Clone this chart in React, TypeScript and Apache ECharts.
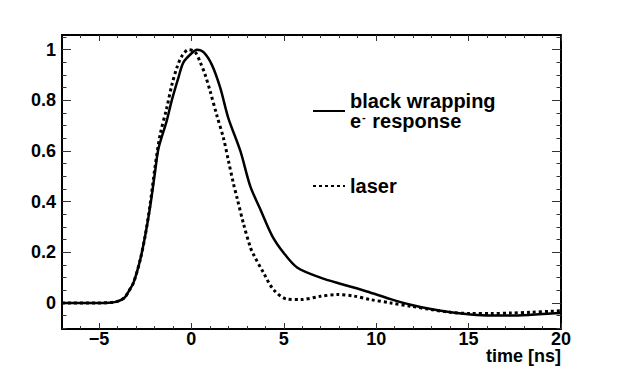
import React, { useEffect, useRef } from "react";
import * as echarts from "echarts";

// time [ns] and normalised amplitude
const wrapTime = [-7, -5, -4.3, -4, -3.8, -3.6, -3.4, -3.13, -2.77, -2.5, -2.23, -1.96, -1.78, -1.33, -1.06, -0.7, -0.43, 0, 0.3, 0.66, 1.11, 1.56, 2.0, 2.65, 3.19, 3.73, 4.37, 5.0, 5.72, 6.98, 8.25, 9.5, 10.78, 11.86, 12.95, 14.03, 15.11, 16.2, 17.28, 18.37, 19.45, 20];
const wrapValue = [0, 0, 0.002, 0.006, 0.012, 0.022, 0.045, 0.08, 0.17, 0.265, 0.38, 0.52, 0.61, 0.72, 0.8, 0.89, 0.95, 0.985, 1.0, 0.99, 0.94, 0.85, 0.73, 0.6, 0.46, 0.37, 0.265, 0.197, 0.14, 0.1, 0.072, 0.045, 0.015, -0.007, -0.024, -0.037, -0.046, -0.05, -0.05, -0.047, -0.042, -0.04];

const laserTime = [-7, -5, -4.3, -4, -3.8, -3.6, -3.4, -3.13, -2.77, -2.5, -2.23, -1.96, -1.69, -1.33, -1.06, -0.78, -0.51, -0.15, 0.21, 0.48, 0.75, 1.02, 1.38, 1.74, 2.01, 2.28, 2.47, 2.83, 3.19, 3.37, 3.91, 4.45, 5.18, 5.9, 6.98, 7.9, 8.8, 9.69, 10.78, 11.86, 12.95, 14.03, 15.11, 16.2, 17.28, 18.37, 19.45, 20];
const laserValue = [0, 0, 0.002, 0.006, 0.012, 0.022, 0.045, 0.08, 0.17, 0.265, 0.39, 0.54, 0.665, 0.77, 0.86, 0.93, 0.975, 1.0, 0.99, 0.95, 0.9, 0.835, 0.74, 0.65, 0.56, 0.47, 0.415, 0.31, 0.22, 0.19, 0.118, 0.052, 0.015, 0.013, 0.026, 0.033, 0.027, 0.013, 0, -0.013, -0.026, -0.037, -0.042, -0.042, -0.04, -0.037, -0.033, -0.031];

const xMajorTicks = [-5, 0, 5, 10, 15, 20];
const yMajorTicks = [0, 0.2, 0.4, 0.6, 0.8, 1];
const X_MIN = -7;
const X_MAX = 20;
const Y_MIN = -0.103;
const Y_MAX = 1.058;

const xMinorTicks: number[] = [];
for (let v = -6; v <= 20; v += 1) xMinorTicks.push(v);
const yMinorTicks: number[] = [];
for (let k = -2; k <= 21; k++) yMinorTicks.push(Math.round(k * 5) / 100);

const FONT = "'Liberation Sans', Arial, Helvetica, sans-serif";

const fmtX = (v: number) => (v < 0 ? "\u2212" + Math.abs(v) : String(v));

export default function App() {
  const ref = useRef<HTMLDivElement>(null);
  useEffect(() => {
    if (!ref.current) return;
    const chart = echarts.init(ref.current, null, { renderer: "svg" });
    const frame = { show: true, onZero: false, lineStyle: { color: "#000", width: 2 } };
    const noLine = { show: false, onZero: false };
    const tick = (len: number, values: number[]) => ({
      show: true,
      inside: true,
      length: len,
      customValues: values,
      lineStyle: { color: "#333", width: 1 },
    });
    const xBase = { type: "value", min: X_MIN, max: X_MAX, gridIndex: 0, splitLine: { show: false } };
    const yBase = { type: "value", min: Y_MIN, max: Y_MAX, gridIndex: 0, splitLine: { show: false } };
    const labelStyle = { color: "#000", fontFamily: FONT, fontWeight: "bold", fontSize: 18 };
    chart.setOption({
      animation: false,
      backgroundColor: "#fff",
      grid: { left: 62, right: 62, top: 35, bottom: 37, containLabel: false },
      xAxis: [
        {
          ...xBase,
          position: "bottom",
          axisLine: frame,
          axisTick: tick(6, xMajorTicks),
          axisLabel: { ...labelStyle, customValues: xMajorTicks, formatter: fmtX, margin: 1 },
        },
        { ...xBase, position: "bottom", axisLine: noLine, axisTick: tick(3, xMinorTicks), axisLabel: { show: false } },
        { ...xBase, position: "top", axisLine: frame, axisTick: tick(6, xMajorTicks), axisLabel: { show: false } },
        { ...xBase, position: "top", axisLine: noLine, axisTick: tick(3, xMinorTicks), axisLabel: { show: false } },
      ],
      yAxis: [
        {
          ...yBase,
          position: "left",
          axisLine: frame,
          axisTick: tick(9, yMajorTicks),
          axisLabel: { ...labelStyle, customValues: yMajorTicks, margin: 6 },
        },
        { ...yBase, position: "left", axisLine: noLine, axisTick: tick(4.5, yMinorTicks), axisLabel: { show: false } },
        { ...yBase, position: "right", axisLine: frame, axisTick: tick(9, yMajorTicks), axisLabel: { show: false } },
        { ...yBase, position: "right", axisLine: noLine, axisTick: tick(4.5, yMinorTicks), axisLabel: { show: false } },
      ],
      legend: {
        orient: "vertical",
        left: 312,
        top: 91,
        padding: 0,
        itemWidth: 32,
        itemHeight: 40,
        itemGap: 39,
        data: ["black wrapping", "laser"],
        itemStyle: { color: "rgba(0,0,0,0)", borderWidth: 0, opacity: 0 },
        formatter: (name: string) =>
          name === "black wrapping"
            ? "{t|black wrapping}\n{t|e}{sup|-}{t| response}"
            : "{t|laser}",
        textStyle: {
          color: "#000",
          fontFamily: FONT,
          fontWeight: "bold",
          fontSize: 20,
          rich: {
            t: { fontFamily: FONT, fontWeight: "bold", fontSize: 20, lineHeight: 20, color: "#000" },
            sup: { fontFamily: FONT, fontWeight: "bold", fontSize: 11, lineHeight: 20, verticalAlign: "top", color: "#000", padding: [0, 1, 8, 1] },
          },
        },
      },
      graphic: [
        {
          type: "text",
          right: 62,
          top: 347,
          style: { text: "time [ns]", fill: "#000", font: `bold 18px ${FONT}` },
        },
      ],
      series: [
        {
          name: "black wrapping",
          type: "line",
          xAxisIndex: 0,
          yAxisIndex: 0,
          data: wrapTime.map((t, i) => [t, wrapValue[i]]),
          symbol: "none",
          smooth: 0.3,
          clip: true,
          lineStyle: { color: "#000", width: 2.5, type: "solid" },
          itemStyle: { color: "#000" },
        },
        {
          name: "laser",
          type: "line",
          xAxisIndex: 0,
          yAxisIndex: 0,
          data: laserTime.map((t, i) => [t, laserValue[i]]),
          symbol: "none",
          smooth: 0.3,
          clip: true,
          lineStyle: { color: "#000", width: 3, type: [3, 3] },
          itemStyle: { color: "#000" },
        },
      ],
    });
    return () => chart.dispose();
  }, []);
  return (
    <div
      ref={ref}
      style={{ position: "fixed", left: 0, top: 0, width: 623, height: 366, background: "#fff" }}
    />
  );
}
